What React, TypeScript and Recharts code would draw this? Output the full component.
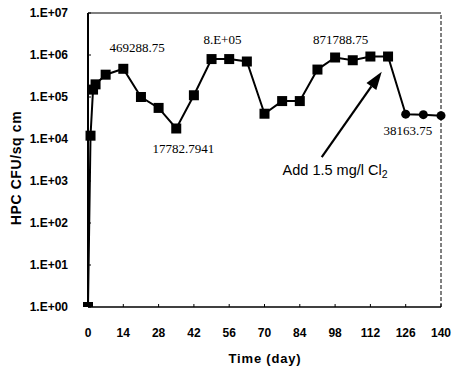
import { LineChart, Line, XAxis, YAxis, ReferenceLine, ReferenceDot } from 'recharts';

// HPC counts on the coupon, day by day
const days = [0, 1, 2, 3, 7, 14, 21, 28, 35, 42, 49, 56, 63, 70, 77, 84, 91, 98, 105, 112, 119, 126, 133, 140];
const hpc = [
  1, 1.2e4, 1.5e5, 2.0e5, 3.4e5, 469288.75, 1.0e5, 5.5e4, 17782.7941, 1.1e5, 8e5, 8e5, 7e5,
  4e4, 8e4, 8e4, 4.5e5, 871788.75, 7.5e5, 9.2e5, 9.2e5, 3.9e4, 3.8e4, 3.6e4,
];
// after chlorine dosing the markers turn into circles
const circleFromDay = 126;

const xTicks = [0, 14, 28, 42, 56, 70, 84, 98, 112, 126, 140];
const yTicks = [1, 10, 100, 1e3, 1e4, 1e5, 1e6, 1e7];

// value labels, placed in data units (day, CFU)
const noteText = ['469288.75', '8.E+05', '17782.7941', '871788.75', '38163.75'];
const noteDay = [19.5, 53.3, 37.8, 100.2, 126.9];
const noteValue = [1.55e6, 2.3e6, 6.1e3, 2.3e6, 1.6e4];

const doseText = 'Add 1.5 mg/l Cl';
const doseAt = { day: 98, value: 1.8e3 };
const arrowFrom = { day: 92.7, value: 3.7e3 };
const arrowTo = { day: 116.5, value: 4.0e5 };

const data = days.map((d, i) => ({ day: d, hpc: hpc[i] }));

const sans = '"Liberation Sans", Arial, sans-serif';
const serif = '"Liberation Serif", "Times New Roman", serif';

function formatExp(v: number) {
  const e = Math.round(Math.log10(v));
  return `1.E+${String(e).padStart(2, '0')}`;
}

function renderDot(props: any) {
  const { cx, cy, payload, index } = props;
  if (payload.day >= circleFromDay) {
    return <circle key={index} cx={cx} cy={cy} r={4.5} fill="#000" />;
  }
  return <rect key={index} x={cx - 5} y={cy - 5} width={10} height={10} fill="#000" />;
}

function arrowShape(props: any) {
  const { x1, y1, x2, y2 } = props;
  const ang = Math.atan2(y2 - y1, x2 - x1);
  const len = 18;
  const half = 6;
  const bx = x2 - len * Math.cos(ang);
  const by = y2 - len * Math.sin(ang);
  const px = -Math.sin(ang) * half;
  const py = Math.cos(ang) * half;
  return (
    <g>
      <line x1={x1} y1={y1} x2={bx} y2={by} stroke="#000" strokeWidth={2.2} />
      <polygon points={`${x2},${y2} ${bx + px},${by + py} ${bx - px},${by - py}`} fill="#000" />
    </g>
  );
}

export default function App() {
  return (
    <div style={{ position: 'absolute', left: 0, top: 0, width: 453, height: 370, background: '#fff' }}>
      <LineChart width={453} height={370} data={data} margin={{ top: 13, right: 12, left: 0, bottom: 0 }}>
        <XAxis
          dataKey="day"
          type="number"
          domain={[0, 140]}
          ticks={xTicks}
          height={63}
          axisLine={{ stroke: '#000', strokeWidth: 1.5 }}
          tickLine={{ stroke: '#000' }}
          tickSize={-3}
          tickMargin={24}
          tick={{ fill: '#000', fontSize: 12, fontWeight: 'bold', fontFamily: sans }}
          label={{
            content: () => (
              <text x={265} y={358} textAnchor="middle" dominantBaseline="central" fontFamily={sans} fontSize={13} fontWeight="bold" letterSpacing={0.8} fill="#000">
                Time (day)
              </text>
            ),
          }}
        />
        <YAxis
          dataKey="hpc"
          scale="log"
          domain={[1, 1e7]}
          allowDataOverflow
          ticks={yTicks}
          tickFormatter={formatExp}
          width={88}
          axisLine={{ stroke: '#000', strokeWidth: 2 }}
          tickLine={{ stroke: '#000' }}
          tickSize={-3}
          tickMargin={23}
          tick={{ fill: '#000', fontSize: 12, fontWeight: 'bold', fontFamily: sans }}
          label={{
            content: () => (
              <text x={16} y={168} transform="rotate(-90 16 168)" textAnchor="middle" dominantBaseline="central" fontFamily={sans} fontSize={14} fontWeight="bold" letterSpacing={0.6} fill="#000">
                HPC CFU/sq cm
              </text>
            ),
          }}
        />
        <ReferenceLine y={1e7} stroke="#000" strokeWidth={1.2} />
        <ReferenceLine x={140} stroke="#000" strokeWidth={1} strokeDasharray="4 2" />
        <Line
          dataKey="hpc"
          stroke="#000"
          strokeWidth={2}
          dot={renderDot}
          activeDot={false}
          isAnimationActive={false}
        />
        {noteText.map((t, i) => (
          <ReferenceDot
            key={t}
            x={noteDay[i]}
            y={noteValue[i]}
            r={0}
            shape={(p: any) => (
              <text x={p.cx} y={p.cy} textAnchor="middle" dominantBaseline="central" fontFamily={serif} fontSize={13} fill="#000">
                {t}
              </text>
            )}
          />
        ))}
        <ReferenceLine
          segment={[
            { x: arrowFrom.day, y: arrowFrom.value },
            { x: arrowTo.day, y: arrowTo.value },
          ]}
          shape={arrowShape}
        />
        <ReferenceDot
          x={doseAt.day}
          y={doseAt.value}
          r={0}
          shape={(p: any) => (
            <text x={p.cx} y={p.cy} textAnchor="middle" dominantBaseline="central" fontFamily={sans} fontSize={14.5} fill="#000">
              {doseText}
              <tspan dy={4} fontSize={10.5}>2</tspan>
            </text>
          )}
        />
      </LineChart>
    </div>
  );
}
